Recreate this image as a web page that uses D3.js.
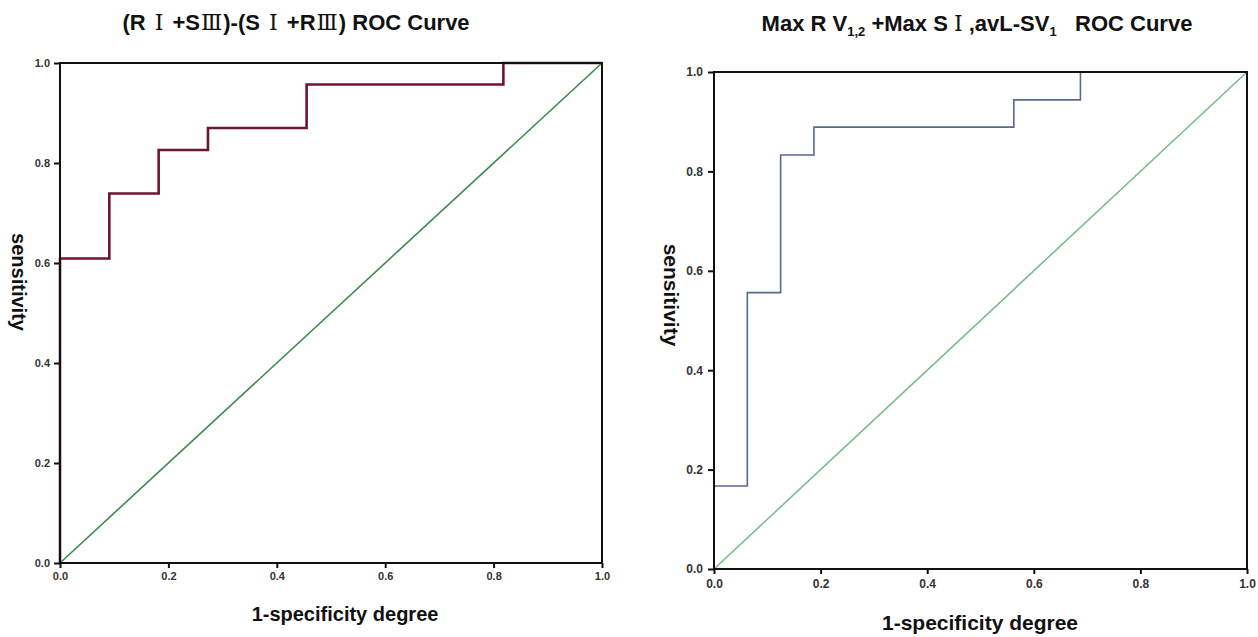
<!DOCTYPE html>
<html><head><meta charset="utf-8">
<script src="https://cdn.jsdelivr.net/npm/d3@7"></script>
<style>body{margin:0;background:#fff}svg{display:block}</style>
</head><body>
<svg id="c" width="1258" height="637"></svg>
<script>
// ---- data ----
const tickValues = [0, 0.2, 0.4, 0.6, 0.8, 1.0];
const tickLabels = ["0.0", "0.2", "0.4", "0.6", "0.8", "1.0"];
const leftFpr = [0, 0, 0.091, 0.182, 0.273, 0.455, 0.818, 1.0];
const leftTpr = [0, 0.609, 0.739, 0.826, 0.870, 0.957, 1.0, 1.0];
const rightFpr = [0, 0, 0.0625, 0.125, 0.1875, 0.5625, 0.6875, 1.0];
const rightTpr = [0, 0.167, 0.556, 0.833, 0.889, 0.944, 1.0, 1.0];
const refLine = [0, 1];
const xTitle = "1-specificity degree";
const yTitle = "sensitivity";

const svg = d3.select("#c");
const FONT = "'Liberation Sans', Arial, sans-serif";

function panel(opts) {
  const x = d3.scaleLinear().domain([0, 1]).range([opts.x0, opts.x1]);
  const y = d3.scaleLinear().domain([0, 1]).range([opts.y0, opts.y1]);
  const g = svg.append("g");
  g.append("path")
    .datum(refLine.map(v => [v, v]))
    .attr("d", d3.line().x(d => x(d[0])).y(d => y(d[1])))
    .attr("fill", "none").attr("stroke", opts.diagColor).attr("stroke-width", 1.6);
  g.append("path")
    .datum(opts.fpr.map((f, i) => [f, opts.tpr[i]]))
    .attr("d", d3.line().curve(d3.curveStepAfter).x(d => x(d[0])).y(d => y(d[1])))
    .attr("fill", "none").attr("stroke", opts.curveColor).attr("stroke-width", opts.curveWidth);
  g.append("rect").attr("x", opts.x0).attr("y", opts.y1)
    .attr("width", opts.x1 - opts.x0).attr("height", opts.y0 - opts.y1)
    .attr("fill", "none").attr("stroke", "#111").attr("stroke-width", 2);
  const fmt = (d) => tickLabels[tickValues.indexOf(d)];
  const ya = g.append("g").attr("transform", `translate(${opts.x0},0)`)
    .call(d3.axisLeft(y).tickValues(tickValues).tickFormat(fmt).tickSize(6).tickPadding(opts.yPad));
  const xa = g.append("g").attr("transform", `translate(0,${opts.y0})`)
    .call(d3.axisBottom(x).tickValues(tickValues).tickFormat(fmt).tickSize(5).tickPadding(opts.xPad));
  [ya, xa].forEach(a => {
    a.select(".domain").remove();
    a.selectAll("line").attr("stroke", "#111").attr("stroke-width", 2);
    a.selectAll("text").attr("font-family", FONT).attr("font-weight", "bold")
      .attr("font-size", opts.tickFont).attr("fill", "#333");
  });
  g.append("text").attr("x", opts.xTitleX).attr("y", opts.xTitleY)
    .attr("text-anchor", "middle").attr("font-family", FONT).attr("font-weight", "bold")
    .attr("font-size", opts.axisFont).attr("fill", "#111").text(xTitle);
  g.append("text").attr("transform", `translate(${opts.yTitleX},${opts.yTitleYc}) rotate(90)`)
    .attr("text-anchor", "middle").attr("font-family", FONT).attr("font-weight", "bold")
    .attr("font-size", opts.axisFont).attr("fill", "#111").text(yTitle);
  return g;
}

panel({x0: 60, x1: 602, y0: 563, y1: 63, fpr: leftFpr, tpr: leftTpr,
  curveColor: "#6e1530", curveWidth: 2.6, diagColor: "#3c8a4c",
  tickFont: 11, yPad: 4, xPad: 4, axisFont: 20,
  xTitleX: 345, xTitleY: 621, yTitleX: 12, yTitleYc: 282});
panel({x0: 714, x1: 1247, y0: 569, y1: 72, fpr: rightFpr, tpr: rightTpr,
  curveColor: "#5a6890", curveWidth: 1.6, diagColor: "#7dbb88",
  tickFont: 12, yPad: 5, xPad: 5, axisFont: 21,
  xTitleX: 980, xTitleY: 630, yTitleX: 664, yTitleYc: 295});

// titles
const roman = "'DejaVu Serif', 'Noto Sans CJK SC', serif";
const t1 = svg.append("text").attr("x", 296).attr("y", 30).attr("text-anchor", "middle")
  .attr("font-family", FONT).attr("font-weight", "bold").attr("font-size", 22).attr("fill", "#111");
// [text, isRoman, extra spacing before]
[["(R ", 0, 0], ["Ⅰ", 1, 3], [" +S", 0, 3], ["Ⅲ", 1, 1], [")-(S ", 0, 1], ["Ⅰ", 1, 3], [" +R", 0, 3], ["Ⅲ", 1, 1], [") ROC Curve", 0, 1]]
  .forEach(([s, r, dx]) => {
    const ts = t1.append("tspan").text(s).attr("dx", dx);
    if (r) ts.attr("font-family", roman).attr("font-weight", "normal");
  });
const t2 = svg.append("text").attr("x", 977).attr("y", 31).attr("text-anchor", "middle")
  .attr("font-family", FONT).attr("font-weight", "bold").attr("font-size", 22).attr("fill", "#111");
t2.append("tspan").text("Max R V");
t2.append("tspan").text("1,2").attr("font-size", 13).attr("dy", 5);
t2.append("tspan").text(" +Max S ").attr("dy", -5);
t2.append("tspan").text("Ⅰ").attr("font-family", roman).attr("font-weight", "normal");
t2.append("tspan").text(" ,avL-SV");
t2.append("tspan").text("1").attr("font-size", 13).attr("dy", 5);
t2.append("tspan").text("\u00a0\u00a0 ROC Curve").attr("dy", -5);
</script>
</body></html>
